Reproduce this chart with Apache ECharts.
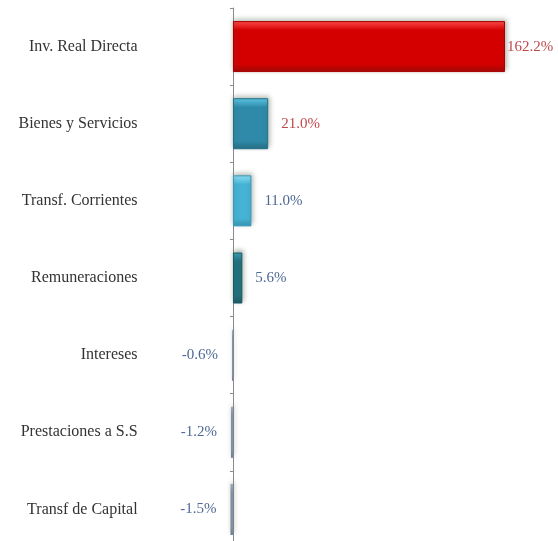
<!DOCTYPE html>
<html>
<head>
<meta charset="utf-8">
<script src="https://cdn.jsdelivr.net/npm/echarts@6/dist/echarts.min.js"></script>
<style>
html,body{margin:0;padding:0;background:#fff;overflow:hidden;}
#c{width:558px;height:548px;}
</style>
</head>
<body>
<div id="c"></div>
<script>
const categories = ["Inv. Real Directa","Bienes y Servicios","Transf. Corrientes","Remuneraciones","Intereses","Prestaciones a S.S","Transf de Capital"];
const values = [162.2, 21.0, 11.0, 5.6, -0.6, -1.2, -1.5];
const barColors = [
  ["#ff4a4a","#d40000","#a80000"],
  ["#5ec8e6","#2e8aa8","#236f88"],
  ["#8fe0f5","#45b3d6","#3797b8"],
  ["#3a9fb5","#21707f","#1a5a66"],
  ["#9aa8bd","#7d8ea8","#6a7a94"],
  ["#9aa8bd","#7d8ea8","#6a7a94"],
  ["#9aa8bd","#7d8ea8","#6a7a94"]
];
const labelColors = ["#c0484c","#c0484c","#4d6894","#4d6894","#4d6894","#4d6894","#4d6894"];

const chart = echarts.init(document.getElementById('c'));
const data = values.map((v,i)=>({
  value: v,
  itemStyle: {
    color: new echarts.graphic.LinearGradient(0,0,0,1,[
      {offset:0,color:barColors[i][0]},
      {offset:0.18,color:barColors[i][1]},
      {offset:0.85,color:barColors[i][1]},
      {offset:1,color:barColors[i][2]}
    ]),
    borderColor: barColors[i][2],
    borderWidth: v > 0 ? 1 : 0,
    shadowColor: 'rgba(70,90,70,0.45)',
    shadowBlur: 5,
    shadowOffsetX: 1,
    shadowOffsetY: -2
  },
  label: {
    position: v >= 0 ? 'right' : 'left',
    distance: v >= 0 ? (i === 0 ? 2 : 13) : 14,
    color: labelColors[i]
  }
}));

chart.setOption({
  animation: false,
  backgroundColor: '#ffffff',
  grid: { left: 229.6, width: 288.5, top: 8, bottom: 0, containLabel: false },
  xAxis: {
    type: 'value', min: -2, max: 170, show: false
  },
  yAxis: {
    type: 'category',
    data: categories,
    inverse: true,
    axisLine: { onZero: true, lineStyle: { color: '#8a8a8a', width: 1 } },
    axisTick: { show: true, length: 3, lineStyle: { color: '#8a8a8a' } },
    axisLabel: {
      margin: 92,
      color: '#333333',
      fontFamily: 'Liberation Serif',
      fontSize: 16
    },
    splitLine: { show: false }
  },
  series: [{
    type: 'bar',
    data: data,
    barWidth: 51,
    label: {
      show: true,
      fontFamily: 'Liberation Serif',
      fontSize: 15,
      formatter: p => p.value.toFixed(1) + '%'
    }
  }]
});
</script>
</body>
</html>
